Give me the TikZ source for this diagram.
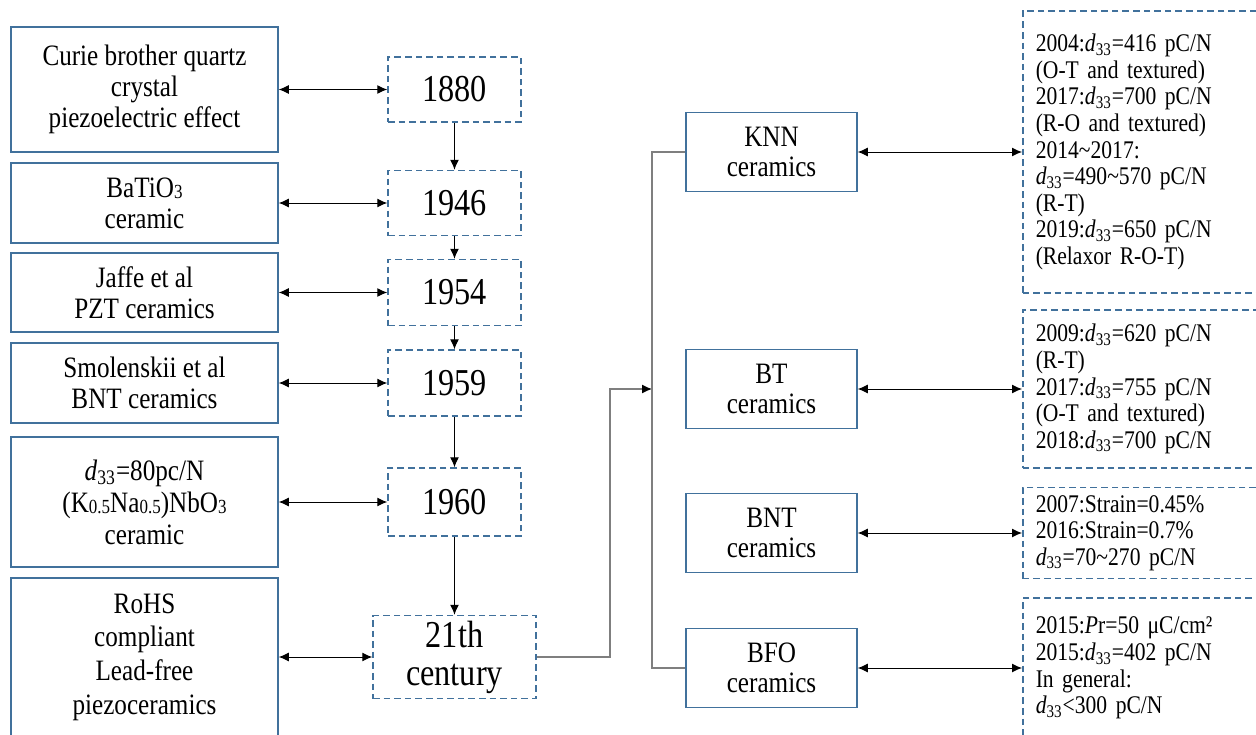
\documentclass[tikz,border=0pt]{standalone}
\usepackage{fontspec}
\setmainfont[FakeStretch=0.85]{Liberation Serif}
\usetikzlibrary{arrows.meta}
\definecolor{boxblue}{HTML}{41719C}
\definecolor{treegray}{HTML}{7F7F7F}
\newcommand{\dd}{\textit{d}\textsubscript{33}}
\newcommand{\lo}[1]{\raisebox{-0.8pt}{\fontsize{10pt}{10pt}\selectfont #1}}
\newcommand{\tl}{\textasciitilde}
\begin{document}
\begin{tikzpicture}[x=0.5pt,y=-0.5pt,
 lbox/.style={draw=boxblue, line width=0.75pt, align=center, inner sep=0pt, minimum width=133.5pt, font=\fontsize{14.8pt}{15.5pt}\selectfont},
 ybox/.style={draw=boxblue, line width=0.75pt, dash pattern=on 3.3pt off 2pt, inner sep=0pt, align=center, minimum width=66.5pt, font=\fontsize{19pt}{19pt}\selectfont},
 mbox/.style={draw=boxblue, line width=0.75pt, align=center, inner sep=0pt, minimum width=85.5pt, minimum height=39.5pt, font=\fontsize{14.8pt}{15pt}\selectfont},
 rbox/.style={draw=boxblue, line width=0.75pt, dash pattern=on 3.3pt off 2pt, anchor=west, inner xsep=6.5pt, inner ysep=0pt, text width=110pt, align=left, font=\fontsize{12.7pt}{13.3pt}\selectfont},
 dbl/.style={{Latex[length=5pt,width=4.5pt]}-{Latex[length=5pt,width=4.5pt]}, line width=0.5pt, black},
 vflow/.style={-{Latex[length=5pt,width=4.5pt]}, line width=0.5pt, black},
 treeline/.style={line width=0.6pt, treegray},
]
\useasboundingbox (0,0) rectangle (1256,734);
\clip (0,0) rectangle (1256,734);

% left boxes
\node[lbox, minimum height=62.5pt] (b1) at (144.5,89.5) {Curie brother quartz\\crystal\\piezoelectric effect};
\node[lbox, minimum height=40pt] (b2) at (144.5,203) {BaTiO\lo{3}\\ceramic};
\node[lbox, minimum height=39.5pt] (b3) at (144.5,292.5) {Jaffe et al\\PZT ceramics};
\node[lbox, minimum height=40pt] (b4) at (144.5,383) {Smolenskii et al\\BNT ceramics};
\node[lbox, minimum height=65pt, font=\fontsize{14.8pt}{16pt}\selectfont] (b5) at (144.5,502) {\dd=80pc/N\\(K\lo{0.5}Na\lo{0.5})NbO\lo{3}\\ceramic};
\node[lbox, minimum height=79pt, font=\fontsize{14.8pt}{16.8pt}\selectfont] (b6) at (144.5,657) {RoHS\\compliant\\Lead-free\\piezoceramics};

% year boxes
\node[ybox, minimum height=32.5pt] (y1) at (454.5,89.5) {1880};
\node[ybox, minimum height=32.5pt] (y2) at (454.5,203) {1946};
\node[ybox, minimum height=33pt] (y3) at (454.5,292.5) {1954};
\node[ybox, minimum height=33pt] (y4) at (454.5,383) {1959};
\node[ybox, minimum height=34pt] (y5) at (454.5,502) {1960};
\node[ybox, minimum width=81.5pt, minimum height=41.5pt] (y6) at (454.5,657) {21th\\century};

% middle boxes
\node[mbox] (m1) at (771.5,152) {KNN\\ceramics};
\node[mbox] (m2) at (771.5,389) {BT\\ceramics};
\node[mbox] (m3) at (771.5,533) {BNT\\ceramics};
\node[mbox] (m4) at (771.5,668) {BFO\\ceramics};

% right boxes
\node[rbox, minimum height=141pt] (r1) at (1022,152) {2004:\dd=416 pC/N\\(O-T and textured)\\2017:\dd=700 pC/N\\(R-O and textured)\\2014\tl2017:\\\dd=490\tl570 pC/N\\(R-T)\\2019:\dd=650 pC/N\\(Relaxor R-O-T)};
\node[rbox, minimum height=79pt] (r2) at (1022,389) {2009:\dd=620 pC/N\\(R-T)\\2017:\dd=755 pC/N\\(O-T and textured)\\2018:\dd=700 pC/N};
\node[rbox, minimum height=45.5pt] (r3) at (1022,533) {2007:Strain=0.45\%\\2016:Strain=0.7\%\\\dd=70\tl270 pC/N};
\node[rbox, minimum height=70pt] (r4) at (1022,668) {2015:\textit{P}r=50 μC/cm²\\2015:\dd=402 pC/N\\In general:\\\dd<300 pC/N};

% horizontal double arrows
\draw[dbl] (b1.east) -- (y1.west);
\draw[dbl] (b2.east) -- (y2.west);
\draw[dbl] (b3.east) -- (y3.west);
\draw[dbl] (b4.east) -- (y4.west);
\draw[dbl] (b5.east) -- (y5.west);
\draw[dbl] (b6.east) -- (y6.west);
\draw[dbl] (m1.east) -- (r1.west);
\draw[dbl] (m2.east) -- (r2.west);
\draw[dbl] (m3.east) -- (r3.west);
\draw[dbl] (m4.east) -- (r4.west);

% timeline arrows
\draw[vflow] (y1.south) -- (y2.north);
\draw[vflow] (y2.south) -- (y3.north);
\draw[vflow] (y3.south) -- (y4.north);
\draw[vflow] (y4.south) -- (y5.north);
\draw[vflow] (y5.south) -- (y6.north);

% tree
\coordinate (jn) at (610,389);
\coordinate (tv) at (652,389);
\coordinate (tt) at (652,152);
\coordinate (tb) at (652,668);
\draw[treeline, -{Latex[length=5pt,width=4.5pt,color=black]}] (y6.east) -| (jn) -- (tv);
\draw[treeline] (m1.west) -- (tt) -- (tb) -- (m4.west);
\end{tikzpicture}
\end{document}
